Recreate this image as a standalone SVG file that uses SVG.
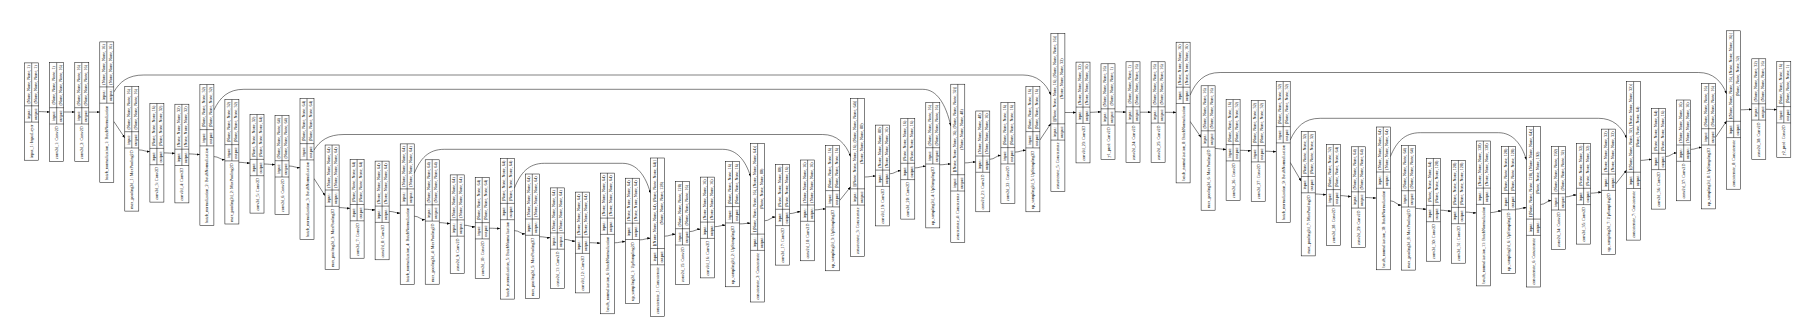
<svg xmlns="http://www.w3.org/2000/svg" width="1818" height="336" viewBox="0 0 1818 336">
<style>
.b{fill:#fff;stroke:#000;stroke-width:.5}
.l{fill:none;stroke:#000;stroke-width:.5}
text{font-family:"Liberation Serif","Times New Roman",serif;font-size:4.2px;text-anchor:middle;dominant-baseline:central;fill:#000}
#edges path{fill:none;stroke:#000;stroke-width:.5;marker-end:url(#a)}
</style>
<defs>
<marker id="a" markerUnits="userSpaceOnUse" markerWidth="3.2" markerHeight="2.4" refX="3.2" refY="1.2" orient="auto"><path d="M0 0L3.2 1.2L0 2.4z" fill="#000"/></marker>
</defs>
<rect width="1818" height="336" fill="#fff"/>
<g id="edges">
<path d="M38.7 111.6C43.7 111.6 44.7 111.9 49.7 111.9"/>
<path d="M63.7 112C68.7 112 69.8 112 74.8 112"/>
<path d="M88.8 112.1C93.8 112.1 94.8 112.1 99.8 112.1"/>
<path d="M113.8 121.4L124.8 137.9"/>
<path d="M138.8 149.9C143.8 149.9 144.9 151.6 149.9 151.6"/>
<path d="M163.9 152.9C168.9 152.9 169.9 153.3 174.9 153.3"/>
<path d="M188.9 153.9C193.9 153.9 194.9 154.5 199.9 154.5"/>
<path d="M213.9 156.6C218.9 156.6 219.9 159.7 224.9 159.7"/>
<path d="M238.9 162.3C243.9 162.3 245 163.1 250 163.1"/>
<path d="M264 164C269 164 270 164.6 275 164.6"/>
<path d="M289 166C294 166 295 167.7 300 167.7"/>
<path d="M314 178.5L325.1 195.7"/>
<path d="M339.1 207.6C344.1 207.6 345.1 208.3 350.1 208.3"/>
<path d="M364.1 209.2C369.1 209.2 370.1 209.9 375.1 209.9"/>
<path d="M389.1 211.4C394.1 211.4 395.2 213.1 400.2 213.1"/>
<path d="M414.2 216.2C419.2 216.2 420.2 219.7 425.2 219.7"/>
<path d="M439.2 222.6C444.2 222.6 445.2 223.5 450.2 223.5"/>
<path d="M464.2 225.2C469.2 225.2 470.2 226.9 475.2 226.9"/>
<path d="M489.2 228.2C494.2 228.2 495.3 228.5 500.3 228.5"/>
<path d="M514.3 230.6C519.3 230.6 520.3 233.9 525.3 233.9"/>
<path d="M539.3 236.7C544.3 236.7 545.3 237.7 550.3 237.7"/>
<path d="M564.3 239.4C569.3 239.4 570.4 241.2 575.4 241.2"/>
<path d="M589.4 242.7C594.4 242.7 595.4 243.1 600.4 243.1"/>
<path d="M614.4 242.8C619.4 242.8 620.4 241.6 625.4 241.6"/>
<path d="M639.4 239.9C644.4 239.9 645.5 238.3 650.5 238.3"/>
<path d="M664.5 236.2C669.5 236.2 670.5 234.3 675.5 234.3"/>
<path d="M689.5 231.6C694.5 231.6 695.5 229.2 700.5 229.2"/>
<path d="M714.5 226.7C719.5 226.7 720.5 225.2 725.5 225.2"/>
<path d="M739.5 223.9C744.5 223.9 745.6 223.2 750.6 223.2"/>
<path d="M764.6 220.8C769.6 220.8 770.6 217.1 775.6 217.1"/>
<path d="M789.6 213.6C794.6 213.6 795.6 211.7 800.6 211.7"/>
<path d="M814.6 209.9C819.6 209.9 820.7 208.9 825.7 208.9"/>
<path d="M839.7 200.5L850.7 186.7"/>
<path d="M864.7 177C869.7 177 870.7 176.1 875.7 176.1"/>
<path d="M889.7 173.8C894.7 173.8 895.8 170.7 900.8 170.7"/>
<path d="M914.8 167.9C919.8 167.9 920.8 166.3 925.8 166.3"/>
<path d="M939.8 164.8C944.8 164.8 945.8 164 950.8 164"/>
<path d="M964.8 162.9C969.8 162.9 970.8 162 975.8 162"/>
<path d="M989.8 159.3C994.8 159.3 995.9 155.5 1000.9 155.5"/>
<path d="M1014.9 152.1C1019.9 152.1 1020.9 150.3 1025.9 150.3"/>
<path d="M1039.9 140L1050.9 123.5"/>
<path d="M1064.9 112.5C1069.9 112.5 1071 112.5 1076 112.5"/>
<path d="M1090 112.3C1095 112.3 1096 111.9 1101 111.9"/>
<path d="M1115 111.8C1120 111.8 1121 112.1 1126 112.1"/>
<path d="M1140 112.2C1145 112.2 1146.1 112.2 1151.1 112.2"/>
<path d="M1165.1 112.3C1170.1 112.3 1171.1 112.4 1176.1 112.4"/>
<path d="M1190.1 121.4L1201.1 137.4"/>
<path d="M1215.1 148.5C1220.1 148.5 1221.1 149.4 1226.1 149.4"/>
<path d="M1240.1 150.3C1245.1 150.3 1246.2 150.7 1251.2 150.7"/>
<path d="M1265.2 151.2C1270.2 151.2 1271.2 151.6 1276.2 151.6"/>
<path d="M1290.2 162.4L1301.2 181.2"/>
<path d="M1315.2 194C1320.2 194 1321.3 194.6 1326.3 194.6"/>
<path d="M1340.3 195.6C1345.3 195.6 1346.3 196.5 1351.3 196.5"/>
<path d="M1365.3 197.5C1370.3 197.5 1371.3 198 1376.3 198"/>
<path d="M1390.3 200.8C1395.3 200.8 1396.4 205.1 1401.4 205.1"/>
<path d="M1415.4 208.4C1420.4 208.4 1421.4 209.2 1426.4 209.2"/>
<path d="M1440.4 210.2C1445.4 210.2 1446.4 211.1 1451.4 211.1"/>
<path d="M1465.4 212.1C1470.4 212.1 1471.4 212.9 1476.4 212.9"/>
<path d="M1490.4 212.6C1495.4 212.6 1496.5 211 1501.5 211"/>
<path d="M1515.5 209.2C1520.5 209.2 1521.5 207.7 1526.5 207.7"/>
<path d="M1540.5 204.5C1545.5 204.5 1546.5 200.6 1551.5 200.6"/>
<path d="M1565.5 196.9C1570.5 196.9 1571.6 195 1576.6 195"/>
<path d="M1590.6 193.2C1595.6 193.2 1596.6 192.3 1601.6 192.3"/>
<path d="M1615.6 184L1626.6 170.1"/>
<path d="M1640.6 160.4C1645.6 160.4 1646.7 159.4 1651.7 159.4"/>
<path d="M1665.7 156.6C1670.7 156.6 1671.7 152.9 1676.7 152.9"/>
<path d="M1690.7 149.4C1695.7 149.4 1696.7 147.5 1701.7 147.5"/>
<path d="M1715.7 137.2L1726.7 120.9"/>
<path d="M1740.7 109.8C1745.7 109.8 1746.8 109.4 1751.8 109.4"/>
<path d="M1765.8 109.3C1770.8 109.3 1771.8 109.6 1776.8 109.6"/>
<path d="M113.8 92C119.8 81.8 127.8 75 143.8 75H1022.9C1036.9 75 1045.9 83 1050.9 95"/>
<path d="M213.9 110C219.9 97.6 227.9 89.3 243.9 89.3H922.8C936.8 89.3 945.8 104 950.8 126"/>
<path d="M314 150C320 140.7 328 134.5 344 134.5H822.7C836.7 134.5 845.7 143.4 850.7 156.7"/>
<path d="M414.2 173.3C420.2 158.9 428.2 149.3 444.2 149.3H722.6C736.6 149.3 745.6 160.3 750.6 176.7"/>
<path d="M514.3 188.3C520.3 173.3 528.3 163.3 544.3 163.3H622.5C636.5 163.3 645.5 175.3 650.5 193.3"/>
<path d="M1190.1 95C1196.1 81.5 1204.1 72.5 1220.1 72.5H1698.7C1712.7 72.5 1721.7 81.1 1726.7 94"/>
<path d="M1290.2 140C1296.2 127 1304.2 118.3 1320.2 118.3H1598.6C1612.6 118.3 1621.6 126.3 1626.6 138.3"/>
<path d="M1390.3 156.7C1396.3 142.3 1404.3 132.7 1420.3 132.7H1498.5C1512.5 132.7 1521.5 143.8 1526.5 160"/>
</g>
<g id="input_1" transform="translate(24.7 160.2) rotate(-90)"><rect class="b" width="97.3" height="14"/><path class="l" d="M38.1 0V14M54.4 0V14M38.1 7H97.3"/><text x="19.05" y="7">input_1: InputLayer</text><text x="46.25" y="3.5">input:</text><text x="46.25" y="10.5">output:</text><text x="75.85" y="3.5">(None, None, None, 1)</text><text x="75.85" y="10.5">(None, None, None, 1)</text></g>
<g id="conv2d_1" transform="translate(49.7 161.4) rotate(-90)"><rect class="b" width="98.7" height="14"/><path class="l" d="M37.4 0V14M53.7 0V14M37.4 7H98.7"/><text x="18.7" y="7">conv2d_1: Conv2D</text><text x="45.55" y="3.5">input:</text><text x="45.55" y="10.5">output:</text><text x="76.2" y="3.5">(None, None, None, 1)</text><text x="76.2" y="10.5">(None, None, None, 16)</text></g>
<g id="conv2d_2" transform="translate(74.8 161.4) rotate(-90)"><rect class="b" width="98.7" height="14"/><path class="l" d="M37.4 0V14M53.7 0V14M37.4 7H98.7"/><text x="18.7" y="7">conv2d_2: Conv2D</text><text x="45.55" y="3.5">input:</text><text x="45.55" y="10.5">output:</text><text x="76.2" y="3.5">(None, None, None, 16)</text><text x="76.2" y="10.5">(None, None, None, 16)</text></g>
<g id="batch_normalization_1" transform="translate(99.8 182.6) rotate(-90)"><rect class="b" width="140.7" height="14"/><path class="l" d="M79.4 0V14M95.7 0V14M79.4 7H140.7"/><text x="39.7" y="7">batch_normalization_1: BatchNormalization</text><text x="87.55" y="3.5">input:</text><text x="87.55" y="10.5">output:</text><text x="118.2" y="3.5">(None, None, None, 16)</text><text x="118.2" y="10.5">(None, None, None, 16)</text></g>
<g id="max_pooling2d_1" transform="translate(124.8 211.1) rotate(-90)"><rect class="b" width="124.4" height="14"/><path class="l" d="M63.1 0V14M79.4 0V14M63.1 7H124.4"/><text x="31.55" y="7">max_pooling2d_1: MaxPooling2D</text><text x="71.25" y="3.5">input:</text><text x="71.25" y="10.5">output:</text><text x="101.9" y="3.5">(None, None, None, 16)</text><text x="101.9" y="10.5">(None, None, None, 16)</text></g>
<g id="conv2d_3" transform="translate(149.9 202.1) rotate(-90)"><rect class="b" width="98.7" height="14"/><path class="l" d="M37.4 0V14M53.7 0V14M37.4 7H98.7"/><text x="18.7" y="7">conv2d_3: Conv2D</text><text x="45.55" y="3.5">input:</text><text x="45.55" y="10.5">output:</text><text x="76.2" y="3.5">(None, None, None, 16)</text><text x="76.2" y="10.5">(None, None, None, 32)</text></g>
<g id="conv2d_4" transform="translate(174.9 202.9) rotate(-90)"><rect class="b" width="98.7" height="14"/><path class="l" d="M37.4 0V14M53.7 0V14M37.4 7H98.7"/><text x="18.7" y="7">conv2d_4: Conv2D</text><text x="45.55" y="3.5">input:</text><text x="45.55" y="10.5">output:</text><text x="76.2" y="3.5">(None, None, None, 32)</text><text x="76.2" y="10.5">(None, None, None, 32)</text></g>
<g id="batch_normalization_2" transform="translate(199.9 225.3) rotate(-90)"><rect class="b" width="140.7" height="14"/><path class="l" d="M79.4 0V14M95.7 0V14M79.4 7H140.7"/><text x="39.7" y="7">batch_normalization_2: BatchNormalization</text><text x="87.55" y="3.5">input:</text><text x="87.55" y="10.5">output:</text><text x="118.2" y="3.5">(None, None, None, 32)</text><text x="118.2" y="10.5">(None, None, None, 32)</text></g>
<g id="max_pooling2d_2" transform="translate(224.9 224) rotate(-90)"><rect class="b" width="124.4" height="14"/><path class="l" d="M63.1 0V14M79.4 0V14M63.1 7H124.4"/><text x="31.55" y="7">max_pooling2d_2: MaxPooling2D</text><text x="71.25" y="3.5">input:</text><text x="71.25" y="10.5">output:</text><text x="101.9" y="3.5">(None, None, None, 32)</text><text x="101.9" y="10.5">(None, None, None, 32)</text></g>
<g id="conv2d_5" transform="translate(250 213.1) rotate(-90)"><rect class="b" width="98.7" height="14"/><path class="l" d="M37.4 0V14M53.7 0V14M37.4 7H98.7"/><text x="18.7" y="7">conv2d_5: Conv2D</text><text x="45.55" y="3.5">input:</text><text x="45.55" y="10.5">output:</text><text x="76.2" y="3.5">(None, None, None, 32)</text><text x="76.2" y="10.5">(None, None, None, 64)</text></g>
<g id="conv2d_6" transform="translate(275 214.4) rotate(-90)"><rect class="b" width="98.7" height="14"/><path class="l" d="M37.4 0V14M53.7 0V14M37.4 7H98.7"/><text x="18.7" y="7">conv2d_6: Conv2D</text><text x="45.55" y="3.5">input:</text><text x="45.55" y="10.5">output:</text><text x="76.2" y="3.5">(None, None, None, 64)</text><text x="76.2" y="10.5">(None, None, None, 64)</text></g>
<g id="batch_normalization_3" transform="translate(300 239.3) rotate(-90)"><rect class="b" width="140.7" height="14"/><path class="l" d="M79.4 0V14M95.7 0V14M79.4 7H140.7"/><text x="39.7" y="7">batch_normalization_3: BatchNormalization</text><text x="87.55" y="3.5">input:</text><text x="87.55" y="10.5">output:</text><text x="118.2" y="3.5">(None, None, None, 64)</text><text x="118.2" y="10.5">(None, None, None, 64)</text></g>
<g id="max_pooling2d_3" transform="translate(325.1 269.4) rotate(-90)"><rect class="b" width="124.4" height="14"/><path class="l" d="M63.1 0V14M79.4 0V14M63.1 7H124.4"/><text x="31.55" y="7">max_pooling2d_3: MaxPooling2D</text><text x="71.25" y="3.5">input:</text><text x="71.25" y="10.5">output:</text><text x="101.9" y="3.5">(None, None, None, 64)</text><text x="101.9" y="10.5">(None, None, None, 64)</text></g>
<g id="conv2d_7" transform="translate(350.1 258.2) rotate(-90)"><rect class="b" width="98.7" height="14"/><path class="l" d="M37.4 0V14M53.7 0V14M37.4 7H98.7"/><text x="18.7" y="7">conv2d_7: Conv2D</text><text x="45.55" y="3.5">input:</text><text x="45.55" y="10.5">output:</text><text x="76.2" y="3.5">(None, None, None, 64)</text><text x="76.2" y="10.5">(None, None, None, 64)</text></g>
<g id="conv2d_8" transform="translate(375.1 259.8) rotate(-90)"><rect class="b" width="98.7" height="14"/><path class="l" d="M37.4 0V14M53.7 0V14M37.4 7H98.7"/><text x="18.7" y="7">conv2d_8: Conv2D</text><text x="45.55" y="3.5">input:</text><text x="45.55" y="10.5">output:</text><text x="76.2" y="3.5">(None, None, None, 64)</text><text x="76.2" y="10.5">(None, None, None, 64)</text></g>
<g id="batch_normalization_4" transform="translate(400.2 284.6) rotate(-90)"><rect class="b" width="140.7" height="14"/><path class="l" d="M79.4 0V14M95.7 0V14M79.4 7H140.7"/><text x="39.7" y="7">batch_normalization_4: BatchNormalization</text><text x="87.55" y="3.5">input:</text><text x="87.55" y="10.5">output:</text><text x="118.2" y="3.5">(None, None, None, 64)</text><text x="118.2" y="10.5">(None, None, None, 64)</text></g>
<g id="max_pooling2d_4" transform="translate(425.2 284.2) rotate(-90)"><rect class="b" width="124.4" height="14"/><path class="l" d="M63.1 0V14M79.4 0V14M63.1 7H124.4"/><text x="31.55" y="7">max_pooling2d_4: MaxPooling2D</text><text x="71.25" y="3.5">input:</text><text x="71.25" y="10.5">output:</text><text x="101.9" y="3.5">(None, None, None, 64)</text><text x="101.9" y="10.5">(None, None, None, 64)</text></g>
<g id="conv2d_9" transform="translate(450.2 273.6) rotate(-90)"><rect class="b" width="98.7" height="14"/><path class="l" d="M37.4 0V14M53.7 0V14M37.4 7H98.7"/><text x="18.7" y="7">conv2d_9: Conv2D</text><text x="45.55" y="3.5">input:</text><text x="45.55" y="10.5">output:</text><text x="76.2" y="3.5">(None, None, None, 64)</text><text x="76.2" y="10.5">(None, None, None, 64)</text></g>
<g id="conv2d_10" transform="translate(475.2 278.4) rotate(-90)"><rect class="b" width="100.8" height="14"/><path class="l" d="M39.5 0V14M55.8 0V14M39.5 7H100.8"/><text x="19.75" y="7">conv2d_10: Conv2D</text><text x="47.65" y="3.5">input:</text><text x="47.65" y="10.5">output:</text><text x="78.3" y="3.5">(None, None, None, 64)</text><text x="78.3" y="10.5">(None, None, None, 64)</text></g>
<g id="batch_normalization_5" transform="translate(500.3 299.1) rotate(-90)"><rect class="b" width="140.7" height="14"/><path class="l" d="M79.4 0V14M95.7 0V14M79.4 7H140.7"/><text x="39.7" y="7">batch_normalization_5: BatchNormalization</text><text x="87.55" y="3.5">input:</text><text x="87.55" y="10.5">output:</text><text x="118.2" y="3.5">(None, None, None, 64)</text><text x="118.2" y="10.5">(None, None, None, 64)</text></g>
<g id="max_pooling2d_5" transform="translate(525.3 298.4) rotate(-90)"><rect class="b" width="124.4" height="14"/><path class="l" d="M63.1 0V14M79.4 0V14M63.1 7H124.4"/><text x="31.55" y="7">max_pooling2d_5: MaxPooling2D</text><text x="71.25" y="3.5">input:</text><text x="71.25" y="10.5">output:</text><text x="101.9" y="3.5">(None, None, None, 64)</text><text x="101.9" y="10.5">(None, None, None, 64)</text></g>
<g id="conv2d_11" transform="translate(550.3 288.7) rotate(-90)"><rect class="b" width="100.8" height="14"/><path class="l" d="M39.5 0V14M55.8 0V14M39.5 7H100.8"/><text x="19.75" y="7">conv2d_11: Conv2D</text><text x="47.65" y="3.5">input:</text><text x="47.65" y="10.5">output:</text><text x="78.3" y="3.5">(None, None, None, 64)</text><text x="78.3" y="10.5">(None, None, None, 64)</text></g>
<g id="conv2d_12" transform="translate(575.4 292.9) rotate(-90)"><rect class="b" width="100.8" height="14"/><path class="l" d="M39.5 0V14M55.8 0V14M39.5 7H100.8"/><text x="19.75" y="7">conv2d_12: Conv2D</text><text x="47.65" y="3.5">input:</text><text x="47.65" y="10.5">output:</text><text x="78.3" y="3.5">(None, None, None, 64)</text><text x="78.3" y="10.5">(None, None, None, 64)</text></g>
<g id="batch_normalization_6" transform="translate(600.4 313.8) rotate(-90)"><rect class="b" width="140.7" height="14"/><path class="l" d="M79.4 0V14M95.7 0V14M79.4 7H140.7"/><text x="39.7" y="7">batch_normalization_6: BatchNormalization</text><text x="87.55" y="3.5">input:</text><text x="87.55" y="10.5">output:</text><text x="118.2" y="3.5">(None, None, None, 64)</text><text x="118.2" y="10.5">(None, None, None, 64)</text></g>
<g id="up_sampling2d_1" transform="translate(625.4 303.4) rotate(-90)"><rect class="b" width="125.2" height="14"/><path class="l" d="M63.9 0V14M80.2 0V14M63.9 7H125.2"/><text x="31.95" y="7">up_sampling2d_1: UpSampling2D</text><text x="72.05" y="3.5">input:</text><text x="72.05" y="10.5">output:</text><text x="102.7" y="3.5">(None, None, None, 64)</text><text x="102.7" y="10.5">(None, None, None, 64)</text></g>
<g id="concatenate_1" transform="translate(650.5 316.4) rotate(-90)"><rect class="b" width="158.4" height="14"/><path class="l" d="M51.6 0V14M67.9 0V14M51.6 7H158.4"/><text x="25.8" y="7">concatenate_1: Concatenate</text><text x="59.75" y="3.5">input:</text><text x="59.75" y="10.5">output:</text><text x="113.15" y="3.5">[(None, None, None, 64), (None, None, None, 64)]</text><text x="113.15" y="10.5">(None, None, None, 128)</text></g>
<g id="conv2d_15" transform="translate(675.5 284.5) rotate(-90)"><rect class="b" width="102.9" height="14"/><path class="l" d="M39.5 0V14M55.8 0V14M39.5 7H102.9"/><text x="19.75" y="7">conv2d_15: Conv2D</text><text x="47.65" y="3.5">input:</text><text x="47.65" y="10.5">output:</text><text x="79.35" y="3.5">(None, None, None, 128)</text><text x="79.35" y="10.5">(None, None, None, 16)</text></g>
<g id="conv2d_16" transform="translate(700.5 277.9) rotate(-90)"><rect class="b" width="100.8" height="14"/><path class="l" d="M39.5 0V14M55.8 0V14M39.5 7H100.8"/><text x="19.75" y="7">conv2d_16: Conv2D</text><text x="47.65" y="3.5">input:</text><text x="47.65" y="10.5">output:</text><text x="78.3" y="3.5">(None, None, None, 16)</text><text x="78.3" y="10.5">(None, None, None, 16)</text></g>
<g id="up_sampling2d_2" transform="translate(725.5 286.8) rotate(-90)"><rect class="b" width="125.2" height="14"/><path class="l" d="M63.9 0V14M80.2 0V14M63.9 7H125.2"/><text x="31.95" y="7">up_sampling2d_2: UpSampling2D</text><text x="72.05" y="3.5">input:</text><text x="72.05" y="10.5">output:</text><text x="102.7" y="3.5">(None, None, None, 16)</text><text x="102.7" y="10.5">(None, None, None, 16)</text></g>
<g id="concatenate_2" transform="translate(750.6 302) rotate(-90)"><rect class="b" width="158.4" height="14"/><path class="l" d="M51.6 0V14M67.9 0V14M51.6 7H158.4"/><text x="25.8" y="7">concatenate_2: Concatenate</text><text x="59.75" y="3.5">input:</text><text x="59.75" y="10.5">output:</text><text x="113.15" y="3.5">[(None, None, None, 16), (None, None, None, 64)]</text><text x="113.15" y="10.5">(None, None, None, 80)</text></g>
<g id="conv2d_17" transform="translate(775.6 265.1) rotate(-90)"><rect class="b" width="100.8" height="14"/><path class="l" d="M39.5 0V14M55.8 0V14M39.5 7H100.8"/><text x="19.75" y="7">conv2d_17: Conv2D</text><text x="47.65" y="3.5">input:</text><text x="47.65" y="10.5">output:</text><text x="78.3" y="3.5">(None, None, None, 80)</text><text x="78.3" y="10.5">(None, None, None, 16)</text></g>
<g id="conv2d_18" transform="translate(800.6 260.8) rotate(-90)"><rect class="b" width="100.8" height="14"/><path class="l" d="M39.5 0V14M55.8 0V14M39.5 7H100.8"/><text x="19.75" y="7">conv2d_18: Conv2D</text><text x="47.65" y="3.5">input:</text><text x="47.65" y="10.5">output:</text><text x="78.3" y="3.5">(None, None, None, 16)</text><text x="78.3" y="10.5">(None, None, None, 16)</text></g>
<g id="up_sampling2d_3" transform="translate(825.7 270.8) rotate(-90)"><rect class="b" width="125.2" height="14"/><path class="l" d="M63.9 0V14M80.2 0V14M63.9 7H125.2"/><text x="31.95" y="7">up_sampling2d_3: UpSampling2D</text><text x="72.05" y="3.5">input:</text><text x="72.05" y="10.5">output:</text><text x="102.7" y="3.5">(None, None, None, 16)</text><text x="102.7" y="10.5">(None, None, None, 16)</text></g>
<g id="concatenate_3" transform="translate(850.7 256.7) rotate(-90)"><rect class="b" width="158.4" height="14"/><path class="l" d="M51.6 0V14M67.9 0V14M51.6 7H158.4"/><text x="25.8" y="7">concatenate_3: Concatenate</text><text x="59.75" y="3.5">input:</text><text x="59.75" y="10.5">output:</text><text x="113.15" y="3.5">[(None, None, None, 16), (None, None, None, 64)]</text><text x="113.15" y="10.5">(None, None, None, 80)</text></g>
<g id="conv2d_19" transform="translate(875.7 225.9) rotate(-90)"><rect class="b" width="100.8" height="14"/><path class="l" d="M39.5 0V14M55.8 0V14M39.5 7H100.8"/><text x="19.75" y="7">conv2d_19: Conv2D</text><text x="47.65" y="3.5">input:</text><text x="47.65" y="10.5">output:</text><text x="78.3" y="3.5">(None, None, None, 80)</text><text x="78.3" y="10.5">(None, None, None, 16)</text></g>
<g id="conv2d_20" transform="translate(900.8 219.1) rotate(-90)"><rect class="b" width="100.8" height="14"/><path class="l" d="M39.5 0V14M55.8 0V14M39.5 7H100.8"/><text x="19.75" y="7">conv2d_20: Conv2D</text><text x="47.65" y="3.5">input:</text><text x="47.65" y="10.5">output:</text><text x="78.3" y="3.5">(None, None, None, 16)</text><text x="78.3" y="10.5">(None, None, None, 16)</text></g>
<g id="up_sampling2d_4" transform="translate(925.8 227.9) rotate(-90)"><rect class="b" width="125.2" height="14"/><path class="l" d="M63.9 0V14M80.2 0V14M63.9 7H125.2"/><text x="31.95" y="7">up_sampling2d_4: UpSampling2D</text><text x="72.05" y="3.5">input:</text><text x="72.05" y="10.5">output:</text><text x="102.7" y="3.5">(None, None, None, 16)</text><text x="102.7" y="10.5">(None, None, None, 16)</text></g>
<g id="concatenate_4" transform="translate(950.8 242.6) rotate(-90)"><rect class="b" width="158.4" height="14"/><path class="l" d="M51.6 0V14M67.9 0V14M51.6 7H158.4"/><text x="25.8" y="7">concatenate_4: Concatenate</text><text x="59.75" y="3.5">input:</text><text x="59.75" y="10.5">output:</text><text x="113.15" y="3.5">[(None, None, None, 16), (None, None, None, 32)]</text><text x="113.15" y="10.5">(None, None, None, 48)</text></g>
<g id="conv2d_21" transform="translate(975.8 211.8) rotate(-90)"><rect class="b" width="100.8" height="14"/><path class="l" d="M39.5 0V14M55.8 0V14M39.5 7H100.8"/><text x="19.75" y="7">conv2d_21: Conv2D</text><text x="47.65" y="3.5">input:</text><text x="47.65" y="10.5">output:</text><text x="78.3" y="3.5">(None, None, None, 48)</text><text x="78.3" y="10.5">(None, None, None, 16)</text></g>
<g id="conv2d_22" transform="translate(1000.9 203.4) rotate(-90)"><rect class="b" width="100.8" height="14"/><path class="l" d="M39.5 0V14M55.8 0V14M39.5 7H100.8"/><text x="19.75" y="7">conv2d_22: Conv2D</text><text x="47.65" y="3.5">input:</text><text x="47.65" y="10.5">output:</text><text x="78.3" y="3.5">(None, None, None, 16)</text><text x="78.3" y="10.5">(None, None, None, 16)</text></g>
<g id="up_sampling2d_5" transform="translate(1025.9 211.8) rotate(-90)"><rect class="b" width="125.2" height="14"/><path class="l" d="M63.9 0V14M80.2 0V14M63.9 7H125.2"/><text x="31.95" y="7">up_sampling2d_5: UpSampling2D</text><text x="72.05" y="3.5">input:</text><text x="72.05" y="10.5">output:</text><text x="102.7" y="3.5">(None, None, None, 16)</text><text x="102.7" y="10.5">(None, None, None, 16)</text></g>
<g id="concatenate_5" transform="translate(1050.9 191.7) rotate(-90)"><rect class="b" width="158.4" height="14"/><path class="l" d="M51.6 0V14M67.9 0V14M51.6 7H158.4"/><text x="25.8" y="7">concatenate_5: Concatenate</text><text x="59.75" y="3.5">input:</text><text x="59.75" y="10.5">output:</text><text x="113.15" y="3.5">[(None, None, None, 16), (None, None, None, 16)]</text><text x="113.15" y="10.5">(None, None, None, 32)</text></g>
<g id="conv2d_23" transform="translate(1076 162.9) rotate(-90)"><rect class="b" width="100.8" height="14"/><path class="l" d="M39.5 0V14M55.8 0V14M39.5 7H100.8"/><text x="19.75" y="7">conv2d_23: Conv2D</text><text x="47.65" y="3.5">input:</text><text x="47.65" y="10.5">output:</text><text x="78.3" y="3.5">(None, None, None, 32)</text><text x="78.3" y="10.5">(None, None, None, 16)</text></g>
<g id="y1_pred" transform="translate(1101 159.7) rotate(-90)"><rect class="b" width="95.9" height="14"/><path class="l" d="M34.6 0V14M50.9 0V14M34.6 7H95.9"/><text x="17.3" y="7">y1_pred: Conv2D</text><text x="42.75" y="3.5">input:</text><text x="42.75" y="10.5">output:</text><text x="73.4" y="3.5">(None, None, None, 16)</text><text x="73.4" y="10.5">(None, None, None, 1)</text></g>
<g id="conv2d_24" transform="translate(1126 162.6) rotate(-90)"><rect class="b" width="100.8" height="14"/><path class="l" d="M39.5 0V14M55.8 0V14M39.5 7H100.8"/><text x="19.75" y="7">conv2d_24: Conv2D</text><text x="47.65" y="3.5">input:</text><text x="47.65" y="10.5">output:</text><text x="78.3" y="3.5">(None, None, None, 1)</text><text x="78.3" y="10.5">(None, None, None, 16)</text></g>
<g id="conv2d_25" transform="translate(1151.1 162.6) rotate(-90)"><rect class="b" width="100.8" height="14"/><path class="l" d="M39.5 0V14M55.8 0V14M39.5 7H100.8"/><text x="19.75" y="7">conv2d_25: Conv2D</text><text x="47.65" y="3.5">input:</text><text x="47.65" y="10.5">output:</text><text x="78.3" y="3.5">(None, None, None, 16)</text><text x="78.3" y="10.5">(None, None, None, 16)</text></g>
<g id="batch_normalization_8" transform="translate(1176.1 182.9) rotate(-90)"><rect class="b" width="140.7" height="14"/><path class="l" d="M79.4 0V14M95.7 0V14M79.4 7H140.7"/><text x="39.7" y="7">batch_normalization_8: BatchNormalization</text><text x="87.55" y="3.5">input:</text><text x="87.55" y="10.5">output:</text><text x="118.2" y="3.5">(None, None, None, 16)</text><text x="118.2" y="10.5">(None, None, None, 16)</text></g>
<g id="max_pooling2d_6" transform="translate(1201.1 210.2) rotate(-90)"><rect class="b" width="124.4" height="14"/><path class="l" d="M63.1 0V14M79.4 0V14M63.1 7H124.4"/><text x="31.55" y="7">max_pooling2d_6: MaxPooling2D</text><text x="71.25" y="3.5">input:</text><text x="71.25" y="10.5">output:</text><text x="101.9" y="3.5">(None, None, None, 16)</text><text x="101.9" y="10.5">(None, None, None, 16)</text></g>
<g id="conv2d_26" transform="translate(1226.1 200.4) rotate(-90)"><rect class="b" width="100.8" height="14"/><path class="l" d="M39.5 0V14M55.8 0V14M39.5 7H100.8"/><text x="19.75" y="7">conv2d_26: Conv2D</text><text x="47.65" y="3.5">input:</text><text x="47.65" y="10.5">output:</text><text x="78.3" y="3.5">(None, None, None, 16)</text><text x="78.3" y="10.5">(None, None, None, 32)</text></g>
<g id="conv2d_27" transform="translate(1251.2 201.4) rotate(-90)"><rect class="b" width="100.8" height="14"/><path class="l" d="M39.5 0V14M55.8 0V14M39.5 7H100.8"/><text x="19.75" y="7">conv2d_27: Conv2D</text><text x="47.65" y="3.5">input:</text><text x="47.65" y="10.5">output:</text><text x="78.3" y="3.5">(None, None, None, 32)</text><text x="78.3" y="10.5">(None, None, None, 32)</text></g>
<g id="batch_normalization_9" transform="translate(1276.2 222.3) rotate(-90)"><rect class="b" width="140.7" height="14"/><path class="l" d="M79.4 0V14M95.7 0V14M79.4 7H140.7"/><text x="39.7" y="7">batch_normalization_9: BatchNormalization</text><text x="87.55" y="3.5">input:</text><text x="87.55" y="10.5">output:</text><text x="118.2" y="3.5">(None, None, None, 32)</text><text x="118.2" y="10.5">(None, None, None, 32)</text></g>
<g id="max_pooling2d_7" transform="translate(1301.2 255.9) rotate(-90)"><rect class="b" width="124.4" height="14"/><path class="l" d="M63.1 0V14M79.4 0V14M63.1 7H124.4"/><text x="31.55" y="7">max_pooling2d_7: MaxPooling2D</text><text x="71.25" y="3.5">input:</text><text x="71.25" y="10.5">output:</text><text x="101.9" y="3.5">(None, None, None, 32)</text><text x="101.9" y="10.5">(None, None, None, 32)</text></g>
<g id="conv2d_28" transform="translate(1326.3 245.4) rotate(-90)"><rect class="b" width="100.8" height="14"/><path class="l" d="M39.5 0V14M55.8 0V14M39.5 7H100.8"/><text x="19.75" y="7">conv2d_28: Conv2D</text><text x="47.65" y="3.5">input:</text><text x="47.65" y="10.5">output:</text><text x="78.3" y="3.5">(None, None, None, 32)</text><text x="78.3" y="10.5">(None, None, None, 64)</text></g>
<g id="conv2d_29" transform="translate(1351.3 247.6) rotate(-90)"><rect class="b" width="100.8" height="14"/><path class="l" d="M39.5 0V14M55.8 0V14M39.5 7H100.8"/><text x="19.75" y="7">conv2d_29: Conv2D</text><text x="47.65" y="3.5">input:</text><text x="47.65" y="10.5">output:</text><text x="78.3" y="3.5">(None, None, None, 64)</text><text x="78.3" y="10.5">(None, None, None, 64)</text></g>
<g id="batch_normalization_10" transform="translate(1376.3 269.8) rotate(-90)"><rect class="b" width="142.8" height="14"/><path class="l" d="M81.5 0V14M97.8 0V14M81.5 7H142.8"/><text x="40.75" y="7">batch_normalization_10: BatchNormalization</text><text x="89.65" y="3.5">input:</text><text x="89.65" y="10.5">output:</text><text x="120.3" y="3.5">(None, None, None, 64)</text><text x="120.3" y="10.5">(None, None, None, 64)</text></g>
<g id="max_pooling2d_8" transform="translate(1401.4 270.1) rotate(-90)"><rect class="b" width="124.4" height="14"/><path class="l" d="M63.1 0V14M79.4 0V14M63.1 7H124.4"/><text x="31.55" y="7">max_pooling2d_8: MaxPooling2D</text><text x="71.25" y="3.5">input:</text><text x="71.25" y="10.5">output:</text><text x="101.9" y="3.5">(None, None, None, 64)</text><text x="101.9" y="10.5">(None, None, None, 64)</text></g>
<g id="conv2d_30" transform="translate(1426.4 261.2) rotate(-90)"><rect class="b" width="102.9" height="14"/><path class="l" d="M39.5 0V14M55.8 0V14M39.5 7H102.9"/><text x="19.75" y="7">conv2d_30: Conv2D</text><text x="47.65" y="3.5">input:</text><text x="47.65" y="10.5">output:</text><text x="79.35" y="3.5">(None, None, None, 64)</text><text x="79.35" y="10.5">(None, None, None, 128)</text></g>
<g id="conv2d_31" transform="translate(1451.4 263.2) rotate(-90)"><rect class="b" width="102.9" height="14"/><path class="l" d="M39.5 0V14M55.8 0V14M39.5 7H102.9"/><text x="19.75" y="7">conv2d_31: Conv2D</text><text x="47.65" y="3.5">input:</text><text x="47.65" y="10.5">output:</text><text x="79.35" y="3.5">(None, None, None, 128)</text><text x="79.35" y="10.5">(None, None, None, 128)</text></g>
<g id="batch_normalization_11" transform="translate(1476.4 285.9) rotate(-90)"><rect class="b" width="144.9" height="14"/><path class="l" d="M81.5 0V14M97.8 0V14M81.5 7H144.9"/><text x="40.75" y="7">batch_normalization_11: BatchNormalization</text><text x="89.65" y="3.5">input:</text><text x="89.65" y="10.5">output:</text><text x="121.35" y="3.5">(None, None, None, 128)</text><text x="121.35" y="10.5">(None, None, None, 128)</text></g>
<g id="up_sampling2d_6" transform="translate(1501.5 273.7) rotate(-90)"><rect class="b" width="127.3" height="14"/><path class="l" d="M63.9 0V14M80.2 0V14M63.9 7H127.3"/><text x="31.95" y="7">up_sampling2d_6: UpSampling2D</text><text x="72.05" y="3.5">input:</text><text x="72.05" y="10.5">output:</text><text x="103.75" y="3.5">(None, None, None, 128)</text><text x="103.75" y="10.5">(None, None, None, 128)</text></g>
<g id="concatenate_6" transform="translate(1526.5 287) rotate(-90)"><rect class="b" width="160.5" height="14"/><path class="l" d="M51.6 0V14M67.9 0V14M51.6 7H160.5"/><text x="25.8" y="7">concatenate_6: Concatenate</text><text x="59.75" y="3.5">input:</text><text x="59.75" y="10.5">output:</text><text x="114.2" y="3.5">[(None, None, None, 128), (None, None, None, 64)]</text><text x="114.2" y="10.5">(None, None, None, 192)</text></g>
<g id="conv2d_34" transform="translate(1551.5 249.5) rotate(-90)"><rect class="b" width="102.9" height="14"/><path class="l" d="M39.5 0V14M55.8 0V14M39.5 7H102.9"/><text x="19.75" y="7">conv2d_34: Conv2D</text><text x="47.65" y="3.5">input:</text><text x="47.65" y="10.5">output:</text><text x="79.35" y="3.5">(None, None, None, 192)</text><text x="79.35" y="10.5">(None, None, None, 32)</text></g>
<g id="conv2d_35" transform="translate(1576.6 244.1) rotate(-90)"><rect class="b" width="100.8" height="14"/><path class="l" d="M39.5 0V14M55.8 0V14M39.5 7H100.8"/><text x="19.75" y="7">conv2d_35: Conv2D</text><text x="47.65" y="3.5">input:</text><text x="47.65" y="10.5">output:</text><text x="78.3" y="3.5">(None, None, None, 32)</text><text x="78.3" y="10.5">(None, None, None, 32)</text></g>
<g id="up_sampling2d_7" transform="translate(1601.6 254.3) rotate(-90)"><rect class="b" width="125.2" height="14"/><path class="l" d="M63.9 0V14M80.2 0V14M63.9 7H125.2"/><text x="31.95" y="7">up_sampling2d_7: UpSampling2D</text><text x="72.05" y="3.5">input:</text><text x="72.05" y="10.5">output:</text><text x="102.7" y="3.5">(None, None, None, 32)</text><text x="102.7" y="10.5">(None, None, None, 32)</text></g>
<g id="concatenate_7" transform="translate(1626.6 240.1) rotate(-90)"><rect class="b" width="158.4" height="14"/><path class="l" d="M51.6 0V14M67.9 0V14M51.6 7H158.4"/><text x="25.8" y="7">concatenate_7: Concatenate</text><text x="59.75" y="3.5">input:</text><text x="59.75" y="10.5">output:</text><text x="113.15" y="3.5">[(None, None, None, 32), (None, None, None, 32)]</text><text x="113.15" y="10.5">(None, None, None, 64)</text></g>
<g id="conv2d_36" transform="translate(1651.7 209.1) rotate(-90)"><rect class="b" width="100.8" height="14"/><path class="l" d="M39.5 0V14M55.8 0V14M39.5 7H100.8"/><text x="19.75" y="7">conv2d_36: Conv2D</text><text x="47.65" y="3.5">input:</text><text x="47.65" y="10.5">output:</text><text x="78.3" y="3.5">(None, None, None, 64)</text><text x="78.3" y="10.5">(None, None, None, 16)</text></g>
<g id="conv2d_37" transform="translate(1676.7 200.8) rotate(-90)"><rect class="b" width="100.8" height="14"/><path class="l" d="M39.5 0V14M55.8 0V14M39.5 7H100.8"/><text x="19.75" y="7">conv2d_37: Conv2D</text><text x="47.65" y="3.5">input:</text><text x="47.65" y="10.5">output:</text><text x="78.3" y="3.5">(None, None, None, 16)</text><text x="78.3" y="10.5">(None, None, None, 16)</text></g>
<g id="up_sampling2d_8" transform="translate(1701.7 208.9) rotate(-90)"><rect class="b" width="125.2" height="14"/><path class="l" d="M63.9 0V14M80.2 0V14M63.9 7H125.2"/><text x="31.95" y="7">up_sampling2d_8: UpSampling2D</text><text x="72.05" y="3.5">input:</text><text x="72.05" y="10.5">output:</text><text x="102.7" y="3.5">(None, None, None, 16)</text><text x="102.7" y="10.5">(None, None, None, 16)</text></g>
<g id="concatenate_8" transform="translate(1726.7 189.2) rotate(-90)"><rect class="b" width="158.4" height="14"/><path class="l" d="M51.6 0V14M67.9 0V14M51.6 7H158.4"/><text x="25.8" y="7">concatenate_8: Concatenate</text><text x="59.75" y="3.5">input:</text><text x="59.75" y="10.5">output:</text><text x="113.15" y="3.5">[(None, None, None, 16), (None, None, None, 16)]</text><text x="113.15" y="10.5">(None, None, None, 32)</text></g>
<g id="conv2d_38" transform="translate(1751.8 159.6) rotate(-90)"><rect class="b" width="100.8" height="14"/><path class="l" d="M39.5 0V14M55.8 0V14M39.5 7H100.8"/><text x="19.75" y="7">conv2d_38: Conv2D</text><text x="47.65" y="3.5">input:</text><text x="47.65" y="10.5">output:</text><text x="78.3" y="3.5">(None, None, None, 32)</text><text x="78.3" y="10.5">(None, None, None, 16)</text></g>
<g id="y2_pred" transform="translate(1776.8 157.5) rotate(-90)"><rect class="b" width="95.9" height="14"/><path class="l" d="M34.6 0V14M50.9 0V14M34.6 7H95.9"/><text x="17.3" y="7">y2_pred: Conv2D</text><text x="42.75" y="3.5">input:</text><text x="42.75" y="10.5">output:</text><text x="73.4" y="3.5">(None, None, None, 16)</text><text x="73.4" y="10.5">(None, None, None, 1)</text></g>
</svg>
